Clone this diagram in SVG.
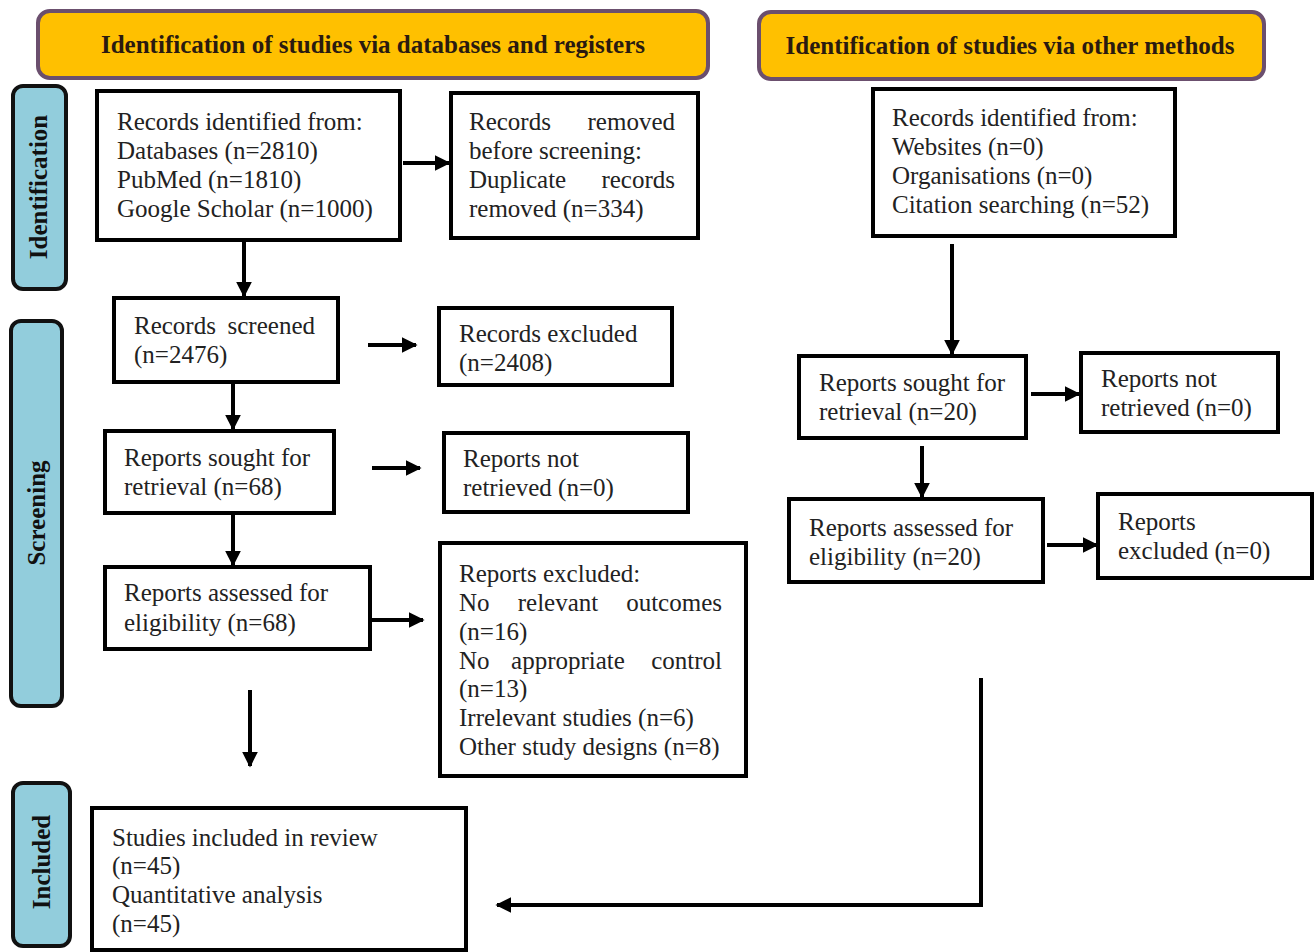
<svg xmlns="http://www.w3.org/2000/svg" width="1315" height="952" viewBox="0 0 1315 952">
<defs>
<style>
.hdr{fill:#FFC000;stroke:#6B4F6E;stroke-width:4}
.side{fill:#92CDDC;stroke:#111;stroke-width:4}
.box{fill:#fff;stroke:#000;stroke-width:4}
.t{font-family:"Liberation Serif","Times New Roman",serif;font-size:25px;fill:#222}
.e{text-anchor:end}
.m{text-anchor:middle}
.h{font-family:"Liberation Serif","Times New Roman",serif;font-size:25px;font-weight:bold;fill:#2a1a10;text-anchor:middle}
.s{font-family:"Liberation Serif","Times New Roman",serif;font-size:25px;font-weight:bold;fill:#111;text-anchor:middle}
.c{fill:none;stroke:#000;stroke-width:4}
</style>
<marker id="ah" viewBox="0 0 10 10" refX="9" refY="5" markerWidth="4" markerHeight="4" orient="auto" markerUnits="strokeWidth">
<path d="M0,0 L10,5 L0,10 z" fill="#000"/>
</marker>
</defs>
<rect width="1315" height="952" fill="#fff"/>

<g id="header-databases">
<rect class="hdr" x="38" y="11" width="670" height="67" rx="12"/>
<text class="h" x="373" y="53">Identification of studies via databases and registers</text>
</g>
<g id="header-other">
<rect class="hdr" x="759" y="12" width="505" height="67" rx="12"/>
<text class="h" x="1010" y="54">Identification of studies via other methods</text>
</g>

<g id="side-identification">
<rect class="side" x="13" y="86" width="53" height="203" rx="10"/>
<text class="s" transform="translate(47,187) rotate(-90)">Identification</text>
</g>
<g id="side-screening">
<rect class="side" x="11" y="321" width="51" height="385" rx="10"/>
<text class="s" transform="translate(45,513) rotate(-90)">Screening</text>
</g>
<g id="side-included">
<rect class="side" x="13" y="783" width="57" height="163" rx="10"/>
<text class="s" transform="translate(50,862) rotate(-90)">Included</text>
</g>

<g id="records-identified">
<rect class="box" x="97" y="91" width="303" height="149"/>
<text class="t" x="117" y="130">Records identified from:</text>
<text class="t" x="117" y="159">Databases (n=2810)</text>
<text class="t" x="117" y="188">PubMed (n=1810)</text>
<text class="t" x="117" y="217">Google Scholar (n=1000)</text>
</g>
<g id="records-removed">
<rect class="box" x="451" y="93" width="247" height="145"/>
<text class="t" x="469" y="130">Records</text><text class="t e" x="675" y="130">removed</text>
<text class="t" x="469" y="159">before screening:</text>
<text class="t" x="469" y="188">Duplicate</text><text class="t e" x="675" y="188">records</text>
<text class="t" x="469" y="217">removed (n=334)</text>
</g>
<g id="records-screened">
<rect class="box" x="114" y="298" width="224" height="84"/>
<text class="t" x="134" y="334">Records</text><text class="t e" x="315" y="334">screened</text>
<text class="t" x="134" y="363">(n=2476)</text>
</g>
<g id="records-excluded">
<rect class="box" x="439" y="308" width="233" height="77"/>
<text class="t" x="459" y="342">Records excluded</text>
<text class="t" x="459" y="371">(n=2408)</text>
</g>
<g id="reports-sought">
<rect class="box" x="105" y="431" width="229" height="82"/>
<text class="t" x="124" y="466">Reports sought for</text>
<text class="t" x="124" y="495">retrieval (n=68)</text>
</g>
<g id="reports-not-retrieved">
<rect class="box" x="444" y="433" width="244" height="79"/>
<text class="t" x="463" y="467">Reports not</text>
<text class="t" x="463" y="496">retrieved (n=0)</text>
</g>
<g id="reports-assessed">
<rect class="box" x="105" y="567" width="265" height="82"/>
<text class="t" x="124" y="601">Reports assessed for</text>
<text class="t" x="124" y="631">eligibility (n=68)</text>
</g>
<g id="reports-excluded">
<rect class="box" x="440" y="543" width="306" height="233"/>
<text class="t" x="459" y="582">Reports excluded:</text>
<text class="t" x="459" y="611">No</text><text class="t m" x="558" y="611">relevant</text><text class="t e" x="722" y="611">outcomes</text>
<text class="t" x="459" y="640">(n=16)</text>
<text class="t" x="459" y="669">No</text><text class="t m" x="568" y="669">appropriate</text><text class="t e" x="722" y="669">control</text>
<text class="t" x="459" y="697">(n=13)</text>
<text class="t" x="459" y="726">Irrelevant studies (n=6)</text>
<text class="t" x="459" y="755">Other study designs (n=8)</text>
</g>
<g id="studies-included">
<rect class="box" x="92" y="808" width="374" height="142"/>
<text class="t" x="112" y="846">Studies included in review</text>
<text class="t" x="112" y="874">(n=45)</text>
<text class="t" x="112" y="903">Quantitative analysis</text>
<text class="t" x="112" y="932">(n=45)</text>
</g>

<g id="other-records-identified">
<rect class="box" x="873" y="89" width="302" height="147"/>
<text class="t" x="892" y="126">Records identified from:</text>
<text class="t" x="892" y="155">Websites (n=0)</text>
<text class="t" x="892" y="184">Organisations (n=0)</text>
<text class="t" x="892" y="213">Citation searching (n=52)</text>
</g>
<g id="other-reports-sought">
<rect class="box" x="799" y="356" width="227" height="82"/>
<text class="t" x="819" y="391">Reports sought for</text>
<text class="t" x="819" y="420">retrieval (n=20)</text>
</g>
<g id="other-reports-not-retrieved">
<rect class="box" x="1081" y="353" width="197" height="79"/>
<text class="t" x="1101" y="387">Reports not</text>
<text class="t" x="1101" y="416">retrieved (n=0)</text>
</g>
<g id="other-reports-assessed">
<rect class="box" x="789" y="499" width="254" height="83"/>
<text class="t" x="809" y="536">Reports assessed for</text>
<text class="t" x="809" y="565">eligibility (n=20)</text>
</g>
<g id="other-reports-excluded">
<rect class="box" x="1098" y="494" width="214" height="84"/>
<text class="t" x="1118" y="530">Reports</text>
<text class="t" x="1118" y="559">excluded (n=0)</text>
</g>

<g id="connectors">
<line class="c" x1="403" y1="163" x2="449" y2="163" marker-end="url(#ah)"/>
<line class="c" x1="244" y1="240" x2="244" y2="296" marker-end="url(#ah)"/>
<line class="c" x1="368" y1="345" x2="416" y2="345" marker-end="url(#ah)"/>
<line class="c" x1="233" y1="382" x2="233" y2="429" marker-end="url(#ah)"/>
<line class="c" x1="372" y1="468" x2="420" y2="468" marker-end="url(#ah)"/>
<line class="c" x1="233" y1="513" x2="233" y2="565" marker-end="url(#ah)"/>
<line class="c" x1="372" y1="620" x2="423" y2="620" marker-end="url(#ah)"/>
<line class="c" x1="250" y1="690" x2="250" y2="766" marker-end="url(#ah)"/>
<line class="c" x1="952" y1="244" x2="952" y2="354" marker-end="url(#ah)"/>
<line class="c" x1="1031" y1="394" x2="1079" y2="394" marker-end="url(#ah)"/>
<line class="c" x1="922" y1="446" x2="922" y2="497" marker-end="url(#ah)"/>
<line class="c" x1="1047" y1="545" x2="1097" y2="545" marker-end="url(#ah)"/>
<polyline class="c" points="981,678 981,905 497,905" marker-end="url(#ah)"/>
</g>
</svg>
